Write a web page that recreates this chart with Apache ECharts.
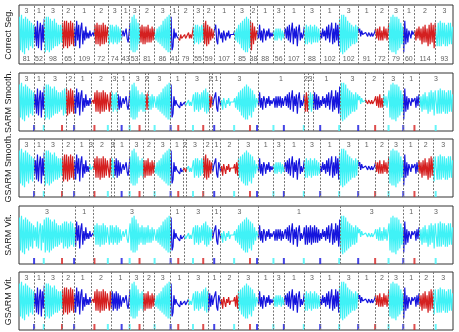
<!DOCTYPE html>
<html>
<head>
<meta charset="utf-8">
<script src="https://cdn.jsdelivr.net/npm/echarts@6/dist/echarts.min.js"></script>
<style>
html, body {margin: 0; padding: 0; background: #fff;}
#chart {width: 459px; height: 332px;}
</style>
</head>
<body>
<div id="chart"></div>
<script>
const TOTAL = 2330

// ground truth segmentation (lengths in samples) and classes
const trueLens = [81, 52, 98, 65, 109, 72, 74, 43, 53, 81, 86, 41, 79, 55, 59, 107,
    85, 38, 88, 56, 107, 88, 102, 102, 91, 72, 79, 60, 114, 93]
const trueCls = [3, 1, 3, 2, 1, 2, 3, 1, 3, 2, 3, 1, 2, 3, 2, 1,
    3, 2, 1, 3, 1, 3, 1, 3, 1, 2, 3, 1, 2, 3]

// signal, one list per true segment
const signal = [
    [9, -8, 10, -9, 8, -10, 9, -7, 8, -8, 7, -6, 6, -7, 5],
    [-3, 4, -6, 7, -7, 2, 6, -8, 5, -4],
    [8, -9, 9, -8, 9, -9, 8, -8, 7, -7, 8, -6, 6, -6, 5, -5, 5, -4],
    [6, -7, 7, -6, 7, -7, 6, -6, 7, -5, 6, -6],
    [4, -6, 7, -3, 5, -7, 3, 6, -5, 2, -3, 4, -2, 1, -2, 2, -1, -2, 1, -1],
    [5, -5, 6, -5, 5, -6, 5, -5, 6, -5, 5, -4, 4],
    [4, -5, 5, -4, 5, -5, 4, -4, 5, -5, 4, -4, 3, -3],
    [0, 2, -1, 1, 3, -2, -4, -3],
    [6, -8, 9, -9, 10, -9, 8, -8, 6, -5],
    [4, -4, 5, -5, 4, -5, 4, -4, 5, -4, 3, -4, 4, -3, 3],
    [2, -3, 3, -4, 4, -5, 5, -6, 7, -7, 8, -8, 9, -9, 10, -9],
    [9, -8, -6, 3, -2, 1, -1, 0],
    [-1, -3, 0, -2, -1, -3, 0, -2, -1, -3, 1, -2, 0, -2, 1],
    [4, -5, 5, -4, 5, -5, 4, -4, 5, -3],
    [6, -5, 7, -6, 5, -5, 4, -3, 3, -2, 1],
    [2, 5, -3, -5, 3, 4, -2, 1, -4, 2, 3, -3, 1, -1, 2, -2, 0, 1, -1, 0],
    [2, -3, 3, -4, 5, -5, 6, -7, 7, -8, 8, -9, 9, -9, 8, -7],
    [7, -8, 6, -5, 4, -3, 2],
    [3, -2, 5, -3, 2, -4, 3, 1, -3, 2, -1, 3, -2, 1, -1, 0],
    [2, -3, 3, -3, 3, -2, 3, -3, 2, -2],
    [1, 3, -2, 4, -3, 5, -4, 2, 6, -5, 3, -2, 4, -6, 2, 5, -3, 1, -2, 0],
    [4, -5, 5, -5, 4, -4, 5, -5, 4, -4, 5, -4, 4, -4, 3, -3],
    [1, -2, 3, -1, 2, -3, 4, -2, 5, -4, 2, 6, -5, 3, -4, 6, -3, 5, -6],
    [8, -9, 10, -10, 10, -9, 9, -8, 7, -7, 6, -6, 5, -5, 4, -5, 5, -4, 4],
    [1, 3, -1, 2, 0, 1, -1, 1, 0, -1, 1, 0, -1, 1, -1, 0, 1],
    [3, -2, 3, -3, 4, -3, 2, -3, 4, -2, 3, -3, 2],
    [6, -8, 9, -9, 10, -9, 9, -10, 9, -8, 8, -7, 6, -5, 4],
    [-9, 7, -5, 3, -4, 2, 1, -2, 2, 0, 1],
    [2, -3, 3, -2, 4, -3, 3, -5, 4, -4, 5, -4, 3, -6, 5, -5, 6, -4, 5, -7, 6],
    [5, -6, 6, -6, 7, -6, 6, -5, 6, -6, 5, -6, 6, -5, 6, -5, 4]
]

// estimated segmentations (inner boundaries, in samples) and classes
const sarmSmoothCuts = [81, 133, 254, 296, 387, 494, 530, 594, 680, 694, 814, 891, 1020, 1036,
    1083, 1283, 1530, 1552, 1578, 1723, 1858, 1956, 2063, 2148]
const sarmSmoothCls = [3, 1, 3, 2, 1, 2, 3, 1, 3, 2, 3, 1, 3, 2, 1, 3, 1, 2, 3, 1, 3, 2, 3, 1, 3]
const gsarmSmoothCuts = [81, 133, 231, 296, 377, 396, 494, 512, 594, 667, 728, 814, 882, 900,
    989, 1036, 1083, 1177, 1283, 1366, 1422, 1529, 1617, 1719, 1821, 1912, 1984, 2063, 2144, 2224]
const gsarmSmoothCls = [3, 1, 3, 2, 1, 3, 2, 3, 1, 3, 2, 3, 1, 2, 3, 2, 1,
    2, 3, 1, 3, 1, 3, 1, 3, 1, 2, 3, 1, 2, 3]
const sarmVitCuts = [301, 399, 814, 888, 1036, 1083, 1283, 1723, 2063, 2148]
const sarmVitCls = [3, 1, 3, 1, 3, 1, 3, 1, 3, 1, 3]
const gsarmVitCuts = [81, 133, 231, 296, 387, 494, 594, 667, 728, 814, 909, 1016, 1083, 1177,
    1283, 1366, 1422, 1529, 1617, 1719, 1821, 1912, 1984, 2063, 2148, 2224]
const gsarmVitCls = [3, 1, 3, 2, 1, 2, 1, 3, 2, 3, 1, 3, 1, 2,
    3, 1, 3, 1, 3, 1, 3, 1, 2, 3, 1, 2, 3]

const panelNames = ['Correct Seg.', 'SARM Smooth.', 'GSARM Smooth.', 'SARM Vit.', 'GSARM Vit.']

const COLORS = {1: '#1515dd', 2: '#d42020', 3: '#40f2f6'}
const FONT = 'Liberation Sans, Arial, sans-serif'
const Y_MAX = 15
const gridTops = [5, 73, 139, 206, 272]
const gridHeights = [59, 58, 58, 58, 58]

// true boundaries
const trueCuts = []
let acc = 0
trueLens.forEach((len, i) => {
    acc += len
    if (i < trueLens.length - 1) trueCuts.push(acc)
})

// signal points spread over each true segment
const points = []
let segStart = 0
trueLens.forEach((len, i) => {
    const vals = signal[i]
    vals.forEach((v, k) => {
        points.push([segStart + (k + 0.5) * len / vals.length, v])
    })
    segStart += len
})

const panels = [
    {cuts: trueCuts, cls: trueCls},
    {cuts: sarmSmoothCuts, cls: sarmSmoothCls},
    {cuts: gsarmSmoothCuts, cls: gsarmSmoothCls},
    {cuts: sarmVitCuts, cls: sarmVitCls},
    {cuts: gsarmVitCuts, cls: gsarmVitCls}
]

const grids = []
const xAxes = []
const yAxes = []
const series = []
const visualMaps = []

panels.forEach((p, pi) => {
    const h = gridHeights[pi]
    const pxToY = px => Y_MAX - px * 2 * Y_MAX / h   // px measured from top
    const edges = [0].concat(p.cuts, [TOTAL])

    grids.push({
        left: 19, right: 6, top: gridTops[pi], height: h,
        containLabel: false, outerBoundsMode: 'none',
        show: true, borderColor: '#333', borderWidth: 1, backgroundColor: '#fff'
    })
    xAxes.push({type: 'value', gridIndex: pi, min: 0, max: TOTAL, show: false})
    yAxes.push({
        type: 'value', gridIndex: pi, min: -Y_MAX, max: Y_MAX,
        axisLine: {show: false}, axisTick: {show: false}, axisLabel: {show: false},
        splitLine: {show: false},
        name: panelNames[pi], nameLocation: 'middle', nameGap: 6,
        nameTextStyle: {fontSize: 9, color: '#222', fontFamily: FONT}
    })

    // signal
    visualMaps.push({
        type: 'piecewise', show: false, dimension: 0, seriesIndex: series.length,
        pieces: p.cls.map((c, k) => ({gte: edges[k], lt: edges[k + 1], color: COLORS[c]}))
    })
    series.push({
        type: 'line', xAxisIndex: pi, yAxisIndex: pi, data: points,
        showSymbol: false, lineStyle: {width: 1.2}, animation: false, z: 2
    })

    // class labels on top + dashed boundaries
    const topY = pxToY(6)
    series.push({
        type: 'scatter', xAxisIndex: pi, yAxisIndex: pi, symbolSize: 1,
        itemStyle: {color: 'rgba(0,0,0,0)'}, animation: false, silent: true, z: 3,
        data: p.cls.map((c, k) => [(edges[k] + edges[k + 1]) / 2, topY, c]),
        label: {
            show: true, position: 'inside', formatter: d => d.value[2],
            fontSize: 7, color: '#333', fontFamily: FONT
        },
        markLine: {
            silent: true, symbol: ['none', 'none'], animation: false,
            label: {show: false},
            lineStyle: {color: '#777', type: [2, 1.5], width: 1},
            emphasis: {disabled: true},
            data: p.cuts.map(x => ({xAxis: x}))
        }
    })

    if (pi === 0) {
        // segment lengths at bottom
        const botY = pxToY(h - 5)
        series.push({
            type: 'scatter', xAxisIndex: pi, yAxisIndex: pi, symbolSize: 1,
            itemStyle: {color: 'rgba(0,0,0,0)'}, animation: false, silent: true, z: 3,
            data: trueLens.map((len, k) => [(edges[k] + edges[k + 1]) / 2, botY, len]),
            label: {
                show: true, position: 'inside', formatter: d => d.value[2],
                fontSize: 7, color: '#333', fontFamily: FONT
            }
        })
    } else {
        // true boundary ticks
        const tickY = pxToY(h - 3)
        series.push({
            type: 'scatter', xAxisIndex: pi, yAxisIndex: pi, symbol: 'rect', symbolSize: [2, 6],
            animation: false, silent: true, z: 4,
            data: trueCuts.map((x, k) => ({value: [x, tickY], itemStyle: {color: COLORS[trueCls[k + 1]]}}))
        })
    }
})

const chart = echarts.init(document.getElementById('chart'))
chart.setOption({
    animation: false,
    backgroundColor: '#fff',
    grid: grids,
    xAxis: xAxes,
    yAxis: yAxes,
    visualMap: visualMaps,
    series: series
})
</script>
</body>
</html>
